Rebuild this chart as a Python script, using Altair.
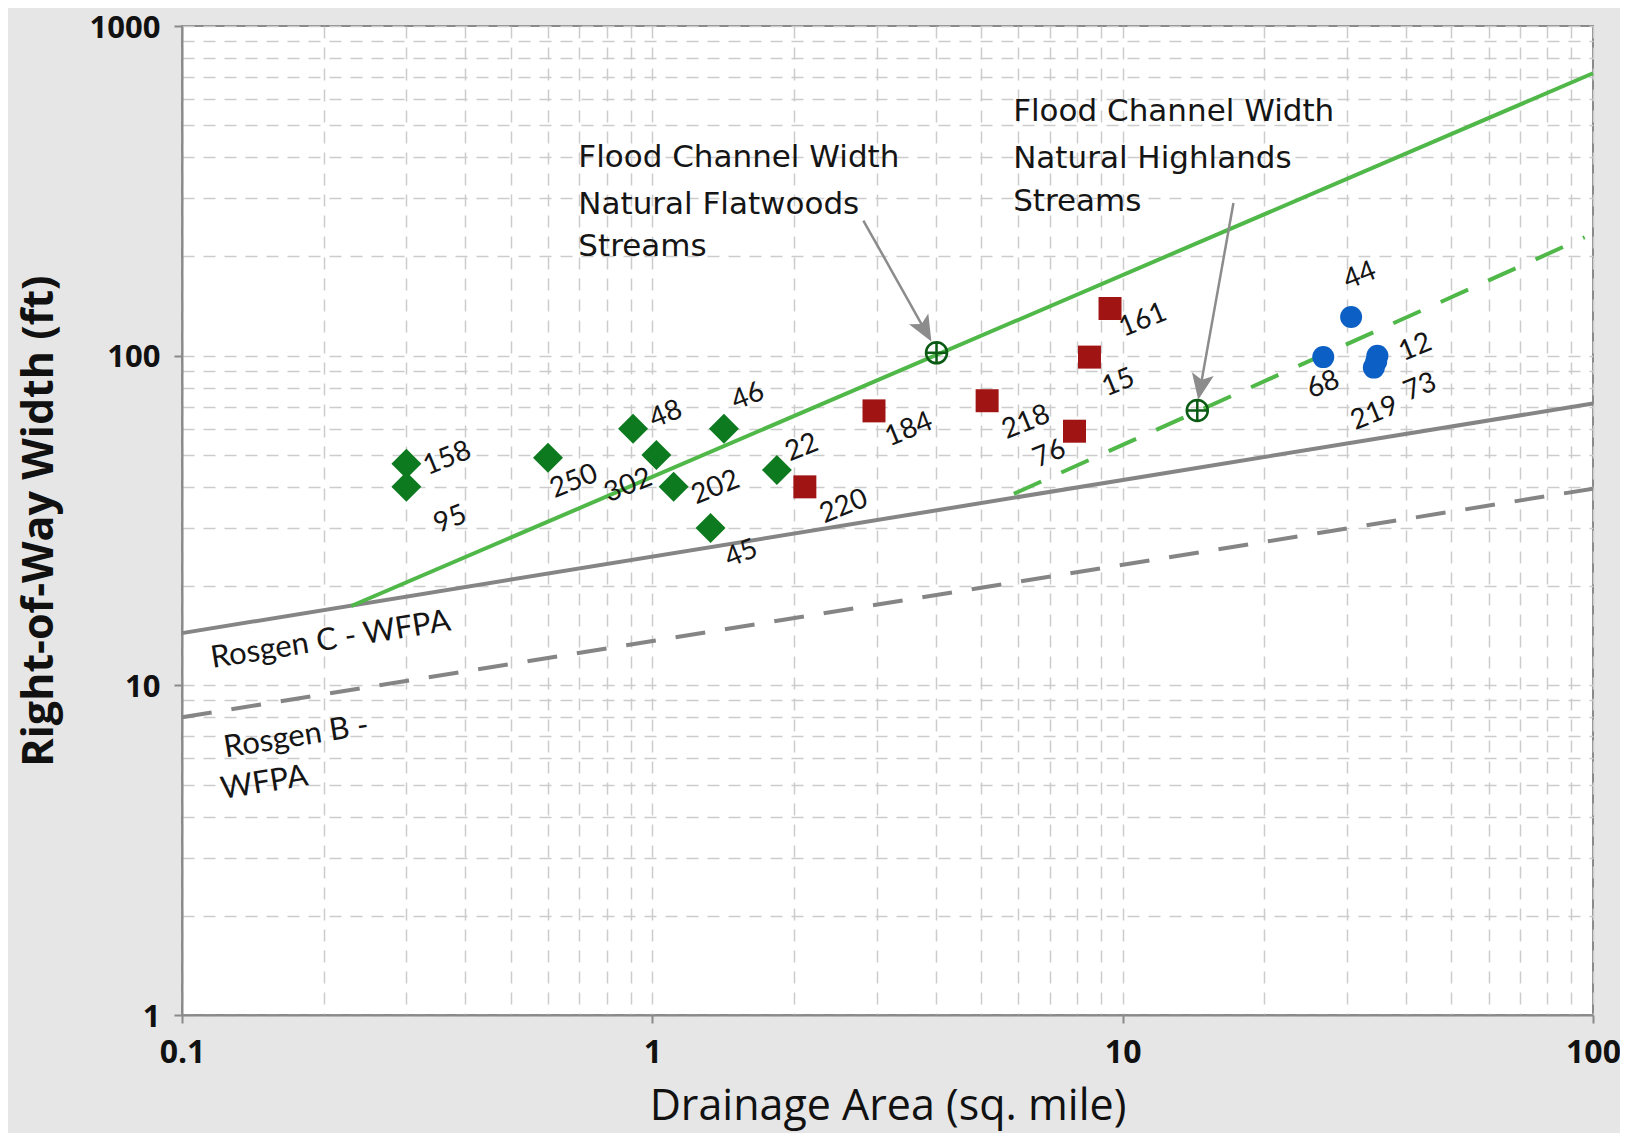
import altair as alt
import pandas as pd

# ---------------- data ----------------
x_major = [0.1, 1, 10, 100]
y_major = [1, 10, 100, 1000]
x_grid = [round(m * 10.0 ** e, 6) for e in (-1, 0, 1) for m in range(1, 10)] + [100]
y_grid = [round(m * 10.0 ** e, 6) for e in (0, 1, 2) for m in range(1, 10)] + [1000]

# Flatwoods sites (green diamonds)
diamond_ids = ["158", "95", "250", "48", "302", "202", "46", "22", "45"]
diamond_x = [0.30, 0.30, 0.60, 0.91, 1.02, 1.11, 1.42, 1.84, 1.33]
diamond_y = [47, 40, 49, 60, 50, 40, 60, 45, 30]
# red squares
square_ids = ["220", "184", "218", "76", "15", "161"]
square_x = [2.11, 2.96, 5.15, 7.9, 8.5, 9.4]
square_y = [40, 68, 73, 59, 99, 139]
# blue circles
circle_ids = ["44", "68", "12", "73", "219"]
circle_x = [30.6, 26.7, 34.8, 34.6, 34.2]
circle_y = [131, 99, 100, 96, 92]

# label placement (pixel offsets of each site number from its marker)
label_offsets = {
    "158": (41, -5), "95": (44, 33), "250": (26, 24), "48": (33, -14), "302": (-28, 31),
    "202": (42, 1), "46": (24, -32), "22": (25, -22), "45": (31, 26),
    "220": (39, 20), "184": (35, 19), "218": (39, 22), "76": (-25, 23), "15": (29, 26),
    "161": (33, 12), "44": (9, -41), "68": (0, 28), "12": (38, -8), "73": (44, 26), "219": (1, 46),
}

# regression lines (end points)
flat_x, flat_y = [0.229, 100], [17.4, 719]
high_x, high_y = [5.87, 96], [38.1, 228.6]
rosc_x, rosc_y = [0.1, 100], [14.4, 71.6]
rosb_x, rosb_y = [0.1, 100], [8.0, 39.5]

# annotation anchors / arrows / texts
anchor_x, anchor_y = [4.02, 14.41], [102, 68.2]
arrow_x, arrow_y = [2.81, 17.2], [257, 290.3]
arrow_hx, arrow_hy = [3.80, 14.64], [119.4, 80.4]
arrow_ang = [330.7, 10.2]

note_text = ["Flood Channel Width", "Natural Flatwoods", "Streams",
             "Flood Channel Width", "Natural Highlands", "Streams"]
note_x = [0.696, 0.696, 0.696, 5.85, 5.85, 5.85]
note_y = [374.7, 269.8, 201.2, 516.6, 372, 275.5]

ros_text = ["Rosgen  C - WFPA", "Rosgen B -", "WFPA"]
ros_x = [0.207, 0.175, 0.1497]
ros_y = [13.7, 6.96, 5.05]

# ---------------- layout ----------------
W, H = 1411, 989
PX_DEC_X = W / 3.0   # pixels per decade, x (0.1 .. 100)
PX_DEC_Y = H / 3.0   # pixels per decade, y (1 .. 1000)


def pts(ids, xs, ys):
    dxs = [label_offsets[i][0] for i in ids]
    dys = [label_offsets[i][1] for i in ids]
    return pd.DataFrame({
        "id": ids, "x": xs, "y": ys,
        "lx": [x * 10 ** (d / PX_DEC_X) for x, d in zip(xs, dxs)],
        "ly": [y * 10 ** (-d / PX_DEC_Y) for y, d in zip(ys, dys)],
    })


df_d = pts(diamond_ids, diamond_x, diamond_y)
df_s = pts(square_ids, square_x, square_y)
df_c = pts(circle_ids, circle_x, circle_y)
df_lab = pd.concat([df_d, df_s, df_c], ignore_index=True)

df_flat = pd.DataFrame({"x": flat_x, "y": flat_y})
df_high = pd.DataFrame({"x": high_x, "y": high_y})
df_rosc = pd.DataFrame({"x": rosc_x, "y": rosc_y})
df_rosb = pd.DataFrame({"x": rosb_x, "y": rosb_y})
df_anchor = pd.DataFrame({"x": anchor_x, "y": anchor_y})
df_arrow = pd.DataFrame({"x": arrow_x, "y": arrow_y, "x2": arrow_hx, "y2": arrow_hy, "ang": arrow_ang})
df_note = pd.DataFrame({"t": note_text, "x": note_x, "y": note_y})
df_ros = pd.DataFrame({"t": ros_text, "x": ros_x, "y": ros_y})

# ---------------- scales & axes ----------------
MAJOR = "abs(log(datum.value)/LN10 - round(log(datum.value)/LN10)) < 1e-6"
AX = "#8a8a8a"


def make_axis(values, title, **kw):
    return alt.Axis(
        values=values, title=title, grid=True,
        gridColor="#cccccc", gridDash=[12, 9], gridWidth=1.5,
        domainColor=AX, domainWidth=2, tickColor=AX, tickWidth=2, tickSize=8,
        tickOpacity={"condition": {"test": MAJOR, "value": 1}, "value": 0},
        labelExpr=f"({MAJOR}) ? format(datum.value, '~g') : ''",
        labelFont="Open Sans", labelFontWeight="bold", labelColor="#111111",
        labelOverlap=False, labelFlush=False,
        titleFont="Open Sans", titleColor="#111111",
        titleBaseline="alphabetic", **kw)


x_axis = make_axis(x_grid, "Drainage Area (sq. mile)", labelBaseline="alphabetic", labelPadding=39,
                   labelFontSize=32, titleY=104, titleFontSize=43, titleFontWeight=500)
y_axis = make_axis(y_grid, "Right-of-Way Width  (ft)", labelPadding=14, labelBaseline="middle",
                   labelFontSize=31, labelOffset=2,
                   titleX=-130, titleFontSize=43, titleFontWeight="bold")

xs = alt.Scale(type="log", domain=[0.1, 100], nice=False)
ys = alt.Scale(type="log", domain=[1, 1000], nice=False)


def X(f="x"):
    return alt.X(f"{f}:Q", scale=xs, axis=x_axis)


def Y(f="y"):
    return alt.Y(f"{f}:Q", scale=ys, axis=y_axis)


LGREEN = "#4fb848"
GRAY = "#858585"

l_rosb = alt.Chart(df_rosb).mark_line(color=GRAY, strokeWidth=4, strokeDash=[30, 20]).encode(x=X(), y=Y())
l_rosc = alt.Chart(df_rosc).mark_line(color=GRAY, strokeWidth=4).encode(x=X(), y=Y())
l_flat = alt.Chart(df_flat).mark_line(color=LGREEN, strokeWidth=4).encode(x=X(), y=Y())
l_high = alt.Chart(df_high).mark_line(color=LGREEN, strokeWidth=4, strokeDash=[30, 22]).encode(x=X(), y=Y())

arrows = alt.Chart(df_arrow).mark_rule(color="#8c8c8c", strokeWidth=2.5).encode(
    x=X(), y=Y(), x2=alt.X2("x2:Q"), y2=alt.Y2("y2:Q"))
heads = alt.Chart(df_arrow).mark_point(
    shape="M 0 1 L -0.85 -1 L 0 -0.55 L 0.85 -1 Z", filled=True, size=676,
    color="#8c8c8c", opacity=1).encode(
    x=X("x2"), y=Y("y2"), angle=alt.Angle("ang:Q", scale=None))

anchors = alt.Chart(df_anchor).mark_point(
    shape="M -1 0 A 1 1 0 1 0 1 0 A 1 1 0 1 0 -1 0 Z M -1 0 L 1 0 M 0 -1 L 0 1",
    filled=False, size=441, stroke="#0b5a14", strokeWidth=2.5, opacity=1).encode(x=X(), y=Y())

p_d = alt.Chart(df_d).mark_point(shape="diamond", filled=True, size=900, color="#0d7a1f", opacity=1).encode(x=X(), y=Y())
p_s = alt.Chart(df_s).mark_point(shape="square", filled=True, size=529, color="#a01414", opacity=1).encode(x=X(), y=Y())
p_c = alt.Chart(df_c).mark_point(shape="circle", filled=True, size=484, color="#0c5fc4", opacity=1).encode(x=X(), y=Y())

labels = alt.Chart(df_lab).mark_text(
    angle=338, font="Lato", fontSize=28, color="#151515", align="center", baseline="middle").encode(
    x=X("lx"), y=Y("ly"), text="id:N")

notes = alt.Chart(df_note).mark_text(
    align="left", baseline="alphabetic", font="DejaVu Sans", fontSize=31, color="#151515").encode(
    x=X(), y=Y(), text="t:N")

ros = alt.Chart(df_ros).mark_text(
    align="center", baseline="middle", angle=351, font="Lato", fontSize=31, color="#151515").encode(
    x=X(), y=Y(), text="t:N")

chart = alt.layer(
    l_rosb, l_rosc, l_flat, l_high, arrows, heads, anchors, p_d, p_s, p_c, labels, notes, ros
).properties(
    width=W, height=H, background="#e6e6e6",
    padding={"left": 174, "top": 18, "right": 27, "bottom": 118},
    autosize=alt.AutoSizeParams(type="none"),
).configure_view(stroke=AX, strokeWidth=2, fill="white")

chart.save("out.html", embed_options={"renderer": "svg", "actions": False})
